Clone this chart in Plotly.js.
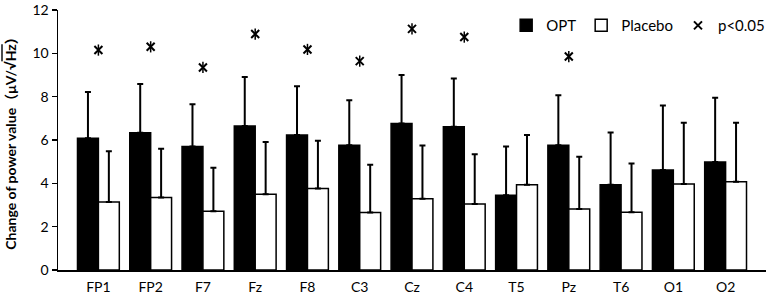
<!DOCTYPE html>
<html>
<head>
<meta charset="utf-8">
<script src="https://cdn.plot.ly/plotly-3.0.1.min.js"></script>
<style>html,body{margin:0;padding:0;background:#fff;}#chart{width:771px;height:300px;}</style>
</head>
<body>
<div id="chart"></div>
<script>
const categories = ["FP1","FP2","F7","Fz","F8","C3","Cz","C4","T5","Pz","T6","O1","O2"];
const optMean = [6.08,6.33,5.70,6.65,6.23,5.76,6.76,6.61,3.45,5.76,3.94,4.62,4.98];
const optErr  = [2.14,2.25,1.95,2.26,2.25,2.08,2.24,2.23,2.25,2.31,2.41,2.97,2.97];
const placeboMean = [3.14,3.35,2.71,3.50,3.76,2.65,3.29,3.05,3.94,2.82,2.67,3.97,4.07];
const placeboErr  = [2.34,2.25,2.01,2.41,2.21,2.21,2.46,2.29,2.29,2.41,2.25,2.83,2.73];
const sigStar = [10.15,10.30,9.35,10.89,10.18,9.64,11.13,10.75,null,9.85,null,null,null];
const yTicks = [0,2,4,6,8,10,12];

const FONT = "Lato, 'Open Sans', 'Noto Sans CJK SC', sans-serif";

const traces = [
  {
    type: 'bar', name: 'OPT', x: categories, y: optMean,
    marker: {color: '#000', line: {color: '#000', width: 1.5}},
    error_y: {type: 'data', symmetric: false, array: optErr, arrayminus: optErr.map(() => 0),
              color: '#000', thickness: 2, width: 3}
  },
  {
    type: 'bar', name: 'Placebo', x: categories, y: placeboMean,
    marker: {color: '#fff', line: {color: '#000', width: 1.5}},
    error_y: {type: 'data', symmetric: false, array: placeboErr, arrayminus: placeboErr.map(() => 0),
              color: '#000', thickness: 2, width: 3}
  },
  {
    type: 'scatter', mode: 'markers', name: 'p<0.05', x: categories, y: sigStar,
    marker: {symbol: 'x-thin-open', size: 8, color: '#000', line: {color: '#000', width: 2}}
  },
  {
    type: 'scatter', mode: 'markers', name: 'p<0.05', showlegend: false, x: categories, y: sigStar,
    marker: {symbol: 'line-ns-open', size: 8, color: '#000', line: {color: '#000', width: 1.5}},
    hoverinfo: 'skip'
  }
];

const layout = {
  width: 771, height: 300,
  margin: {l: 58, r: 1, t: 10, b: 30},
  paper_bgcolor: '#fff', plot_bgcolor: '#fff',
  font: {family: FONT, size: 13, color: '#000'},
  barmode: 'group', bargap: 0.2, bargroupgap: 0,
  showlegend: true,
  legend: {orientation: 'h', x: 0.633, xanchor: 'left', y: 0.94, yanchor: 'middle',
           font: {family: FONT, size: 15, color: '#000'}, bgcolor: 'rgba(0,0,0,0)',
           traceorder: 'normal', itemwidth: 30},
  xaxis: {
    type: 'category', showline: true, linecolor: '#000', linewidth: 1.5,
    ticks: '', showgrid: false, zeroline: false, ticklabelstandoff: 4,
    tickfont: {family: FONT, size: 14, color: '#000'}
  },
  yaxis: {
    range: [0, 12], tickvals: yTicks, ticktext: yTicks.map(String),
    showline: true, linecolor: '#000', linewidth: 1.5,
    ticks: 'outside', ticklen: 5, tickwidth: 1.5, tickcolor: '#000',
    showgrid: false, zeroline: false,
    tickfont: {family: FONT, size: 14, color: '#000'},
    title: {text: "<b>Change of power value（μV/√<span style='text-decoration:overline'>Hz</span>）</b>",
            font: {family: FONT, size: 14, color: '#000'}, standoff: 12}
  }
};

Plotly.newPlot('chart', traces, layout, {displayModeBar: false, staticPlot: true});
</script>
</body>
</html>
